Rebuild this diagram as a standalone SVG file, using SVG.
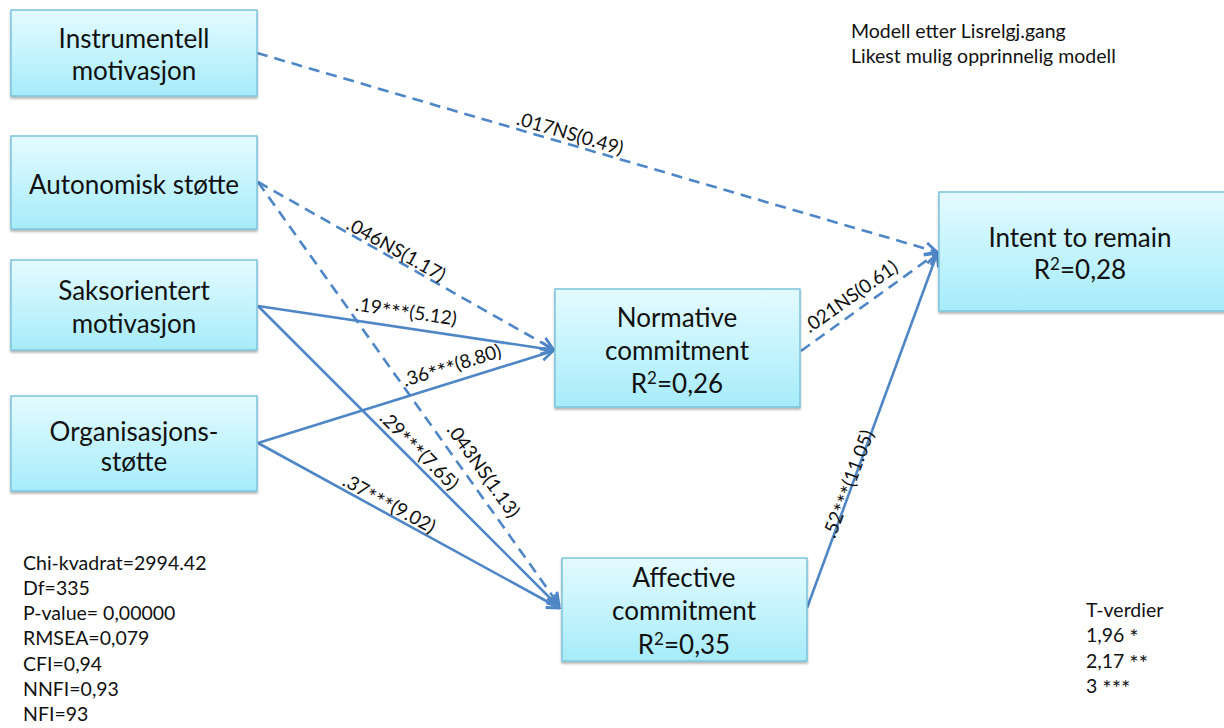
<svg xmlns="http://www.w3.org/2000/svg" width="1224" height="728" viewBox="0 0 1224 728">
  <style>
    .box { fill: url(#boxFill); stroke: #7cc3dc; stroke-width: 1.5; filter: url(#shadow); }
    .nodeText { font-family: Lato, "Open Sans", sans-serif; font-size: 26px; fill: #111; text-anchor: middle; }
    .sup { font-size: 17px; }
    .edge { fill: none; stroke: #4f86c6; stroke-width: 2.6; marker-end: url(#openArrow); }
    .dash { stroke-dasharray: 11 7; }
    .lbl { font-family: Lato, "Open Sans", sans-serif; font-size: 19px; fill: #111; text-anchor: middle; }
    .ast { font-size: 22px; }
    .note { font-family: Lato, "Open Sans", sans-serif; font-size: 19.5px; fill: #111; }
  </style>
  <defs>
    <linearGradient id="boxFill" x1="0" y1="0" x2="0" y2="1">
      <stop offset="0" stop-color="#e4fbff"/>
      <stop offset="1" stop-color="#a6ecfa"/>
    </linearGradient>
    <filter id="shadow" x="-5%" y="-5%" width="110%" height="115%">
      <feDropShadow dx="0" dy="2" stdDeviation="1.3" flood-color="#000" flood-opacity="0.3"/>
    </filter>
    <marker id="openArrow" viewBox="0 0 16 16" refX="14" refY="8" markerWidth="16" markerHeight="16" markerUnits="userSpaceOnUse" orient="auto">
      <path d="M2,2 L14,8 L2,14" fill="none" stroke="#4f86c6" stroke-width="2.8" stroke-dasharray="none" stroke-linejoin="miter"/>
    </marker>
  </defs>

  <rect width="1224" height="728" fill="#ffffff"/>

  <!-- connectors -->
  <g id="connectors">
    <line class="edge dash" x1="257" y1="53" x2="937" y2="252"/>
    <line class="edge dash" x1="258" y1="182" x2="553" y2="349"/>
    <line class="edge dash" x1="258" y1="182" x2="559" y2="605"/>
    <line class="edge" x1="258" y1="306" x2="553" y2="350"/>
    <line class="edge" x1="258" y1="306" x2="559" y2="607"/>
    <line class="edge" x1="258" y1="443" x2="553" y2="351"/>
    <line class="edge" x1="258" y1="443" x2="559" y2="608"/>
    <line class="edge dash" x1="801" y1="351" x2="937" y2="253"/>
    <line class="edge" x1="807" y1="608" x2="937" y2="254"/>
  </g>

  <!-- path coefficients -->
  <g id="edge-labels">
    <text class="lbl" transform="translate(570,134) rotate(16.3)" dy="6">.017NS(0.49)</text>
    <text class="lbl" transform="translate(396,250) rotate(29.3)" dy="6">.046NS(1.17)</text>
    <text class="lbl" transform="translate(406,312) rotate(8.4)" dy="6">.19<tspan class="ast" dy="4">***</tspan><tspan dy="-4">(5.12)</tspan></text>
    <text class="lbl" transform="translate(452,366) rotate(-17.2)" dy="6">.36<tspan class="ast" dy="4">***</tspan><tspan dy="-4">(8.80)</tspan></text>
    <text class="lbl" transform="translate(419,451) rotate(45)" dy="6">.29<tspan class="ast" dy="4">***</tspan><tspan dy="-4">(7.65)</tspan></text>
    <text class="lbl" transform="translate(483,471) rotate(54.4)" dy="6">.043NS(1.13)</text>
    <text class="lbl" transform="translate(389,504) rotate(28.7)" dy="6">.37<tspan class="ast" dy="4">***</tspan><tspan dy="-4">(9.02)</tspan></text>
    <text class="lbl" transform="translate(851,297) rotate(-35.2)" dy="6">.021NS(0.61)</text>
    <text class="lbl" transform="translate(849,484) rotate(-69.6)" dy="6">.52<tspan class="ast" dy="4">***</tspan><tspan dy="-4">(11.05)</tspan></text>
  </g>

  <g id="instrumentell">
    <rect class="box" x="11" y="10" width="246" height="86"/>
    <text class="nodeText" x="134" y="48">Instrumentell</text>
    <text class="nodeText" x="134" y="80">motivasjon</text>
  </g>

  <g id="autonomisk">
    <rect class="box" x="11" y="136" width="246" height="93"/>
    <text class="nodeText" x="134" y="194">Autonomisk støtte</text>
  </g>

  <g id="saksorientert">
    <rect class="box" x="11" y="260" width="246" height="90"/>
    <text class="nodeText" x="134" y="300">Saksorientert</text>
    <text class="nodeText" x="134" y="333">motivasjon</text>
  </g>

  <g id="organisasjon">
    <rect class="box" x="11" y="396" width="246" height="95"/>
    <text class="nodeText" x="134" y="441">Organisasjons-</text>
    <text class="nodeText" x="134" y="471">støtte</text>
  </g>

  <g id="normative">
    <rect class="box" x="555" y="289" width="245" height="118"/>
    <text class="nodeText" x="677" y="327">Normative</text>
    <text class="nodeText" x="677" y="360">commitment</text>
    <text class="nodeText" x="677" y="393">R<tspan class="sup" dy="-9">2</tspan><tspan dy="9">=0,26</tspan></text>
  </g>

  <g id="affective">
    <rect class="box" x="562" y="558" width="245" height="103"/>
    <text class="nodeText" x="684" y="587">Affective</text>
    <text class="nodeText" x="684" y="620">commitment</text>
    <text class="nodeText" x="684" y="654">R<tspan class="sup" dy="-9">2</tspan><tspan dy="9">=0,35</tspan></text>
  </g>

  <g id="intent">
    <rect class="box" x="939" y="192" width="290" height="119"/>
    <text class="nodeText" x="1080" y="247">Intent to remain</text>
    <text class="nodeText" x="1080" y="279">R<tspan class="sup" dy="-9">2</tspan><tspan dy="9">=0,28</tspan></text>
  </g>

  <g id="title-note">
    <text class="note" x="851" y="38">Modell etter Lisrelgj.gang</text>
    <text class="note" x="851" y="63">Likest mulig opprinnelig modell</text>
  </g>

  <g id="fit-indices">
    <text class="note" x="23" y="570">Chi-kvadrat=2994.42</text>
    <text class="note" x="23" y="595">Df=335</text>
    <text class="note" x="23" y="620">P-value= 0,00000</text>
    <text class="note" x="23" y="645">RMSEA=0,079</text>
    <text class="note" x="23" y="671">CFI=0,94</text>
    <text class="note" x="23" y="696">NNFI=0,93</text>
    <text class="note" x="23" y="721">NFI=93</text>
  </g>

  <g id="t-values">
    <text class="note" x="1086" y="617">T-verdier</text>
    <text class="note" x="1086" y="642">1,96 <tspan class="ast" dy="3">*</tspan></text>
    <text class="note" x="1086" y="668">2,17 <tspan class="ast" dy="3">**</tspan></text>
    <text class="note" x="1086" y="693">3 <tspan class="ast" dy="3">***</tspan></text>
  </g>
</svg>
